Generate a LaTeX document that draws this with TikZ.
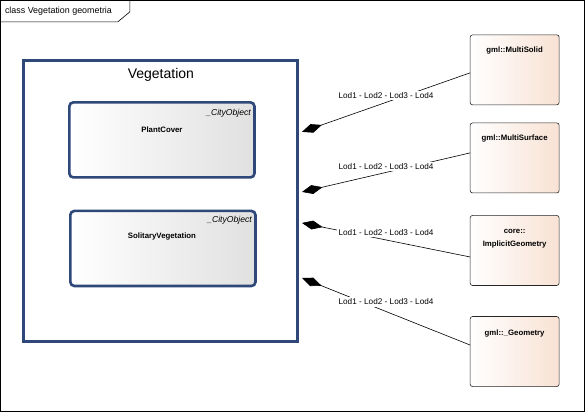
\documentclass[tikz,border=0pt]{standalone}
\usepackage{fontspec}
\setmainfont{Liberation Sans}
\usetikzlibrary{arrows.meta}
\definecolor{pkgblue}{RGB}{47,72,122}
\definecolor{peach}{RGB}{248,226,212}
\begin{document}
\begin{tikzpicture}
	[x=1pt,y=-1pt,
	pkg/.style={rectangle,draw=pkgblue,line width=3pt,fill=white,minimum width=273pt,minimum height=281pt},
	cls/.style={rectangle,rounded corners=4pt,draw=pkgblue,line width=2.6pt,left color=white,right color=black!12,minimum width=185pt,minimum height=75pt},
	ext/.style={rectangle,rounded corners=2.5pt,draw=black!85,line width=.6pt,left color=white,right color=peach,minimum width=89pt,minimum height=70pt},
	clsname/.style={font=\fontsize{7.8}{9}\selectfont\bfseries,align=center,inner sep=0pt},
	stereo/.style={font=\fontsize{8.6}{9}\selectfont\itshape,anchor=east,inner sep=0pt},
	lod/.style={font=\fontsize{8.2}{9}\selectfont,fill=white,inner sep=1.5pt},
	assoc/.style={-{Diamond[length=21pt,width=9pt]},line width=.6pt}
	]
	% frame and tab
	\draw[line width=.6pt] (0.5,0.5) rectangle (584.5,411.5);
	\draw[line width=.6pt] (0.5,22) -- (118,22) -- (130,12) -- (130,0.5);
	\node[font=\fontsize{8.9}{10}\selectfont,anchor=west,inner sep=0pt] (title) at (5,11.5){class Vegetation geometria};

	% package
	\node[pkg] (veg) at (160.5,201){};
	\node[font=\fontsize{14}{16}\selectfont,inner sep=0pt] (vegname) at (161,75){Vegetation};

	\node[cls] (plant) at (162,140){};
	\node[stereo] (plantst) at (251,113){\_CityObject};
	\node[clsname] (plantname) at (162,130){PlantCover};

	\node[cls] (solitary) at (163,248.5){};
	\node[stereo] (solst) at (252,220){\_CityObject};
	\node[clsname] (solname) at (162,237){SolitaryVegetation};

	% external classes
	\node[ext] (msolid) at (514.5,70){};
	\node[clsname] (msolidname) at (514.5,51){gml::MultiSolid};
	\node[ext] (msurf) at (514.5,158){};
	\node[clsname] (msurfname) at (514.5,139){gml::MultiSurface};
	\node[ext] (implicit) at (514.5,250.5){};
	\node[clsname,font=\fontsize{7.8}{12.5}\selectfont\bfseries] (implname) at (514.5,238.5){core::\\ImplicitGeometry};
	\node[ext] (geom) at (514.5,351.5){};
	\node[clsname] (geomname) at (514.5,333){gml::\_Geometry};

	% ends of the associations
	\coordinate (a1) at (302,132);
	\coordinate (a2) at (302,192);
	\coordinate (a3) at (302,223);
	\coordinate (a4) at (302,278);
	\coordinate (b1) at (470,73);
	\coordinate (b2) at (470,153);
	\coordinate (b3) at (470,257);
	\coordinate (b4) at (470,345);

	\draw[assoc] (b1) -- (a1);
	\draw[assoc] (b2) -- (a2);
	\draw[assoc] (b3) -- (a3);
	\draw[assoc] (b4) -- (a4);

	\node[lod] (l1) at (386,96){Lod1 - Lod2 - Lod3 - Lod4};
	\node[lod] (l2) at (386,167){Lod1 - Lod2 - Lod3 - Lod4};
	\node[lod] (l3) at (386,233){Lod1 - Lod2 - Lod3 - Lod4};
	\node[lod] (l4) at (386,302){Lod1 - Lod2 - Lod3 - Lod4};
\end{tikzpicture}
\end{document}
